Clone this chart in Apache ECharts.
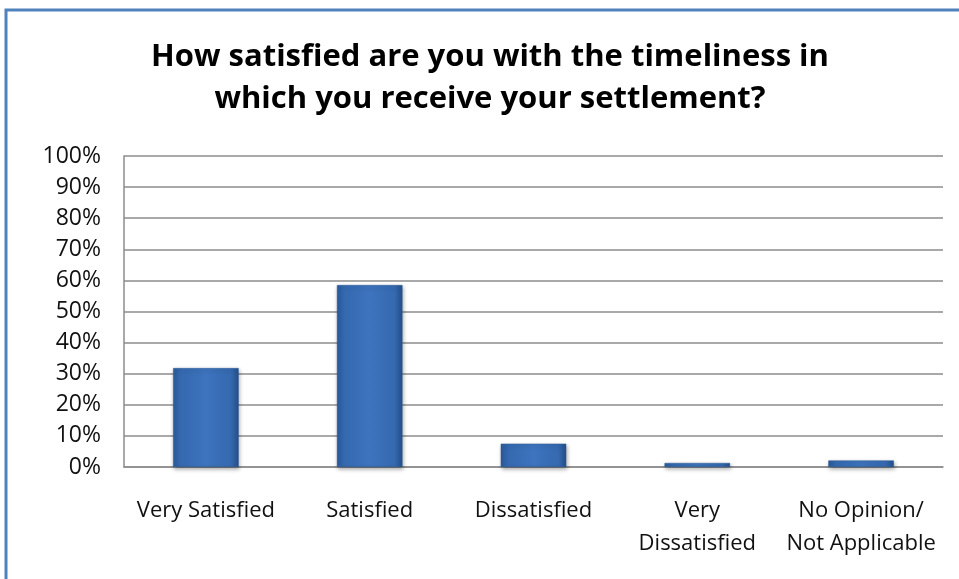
<!DOCTYPE html>
<html>
<head>
<meta charset="utf-8">
<script src="https://cdn.jsdelivr.net/npm/echarts@6/dist/echarts.min.js"></script>
<style>
html,body{margin:0;padding:0;background:#fff;}
#chart{width:959px;height:579px;}
</style>
</head>
<body>
<div id="chart"></div>
<script>
const titleText = "How satisfied are you with the timeliness in\nwhich you receive your settlement?";
const categories = ["Very Satisfied", "Satisfied", "Dissatisfied", "Very\nDissatisfied", "No Opinion/\nNot Applicable"];
const values = [31.8, 58.5, 7.5, 1.3, 2.1];
const yTicks = [0, 10, 20, 30, 40, 50, 60, 70, 80, 90, 100];

const chart = echarts.init(document.getElementById('chart'), null, {renderer: 'canvas'});
const FONT = 'Open Sans, Noto Sans, sans-serif';
chart.setOption({
  animation: false,
  backgroundColor: '#ffffff',
  graphic: [{
    type: 'rect',
    shape: {x: 6, y: 10, width: 1000, height: 700},
    style: {fill: 'none', stroke: '#4f81bd', lineWidth: 3},
    z: 100
  }, {
    type: 'text',
    x: 490,
    y: 36,
    style: {
      text: titleText,
      textAlign: 'center',
      textVerticalAlign: 'top',
      fontFamily: FONT,
      fontSize: 31,
      fontWeight: 'bold',
      fill: '#000',
      lineHeight: 42
    },
    z: 50
  }],
  grid: {left: 124, right: 16, top: 156, bottom: 112},
  xAxis: {
    type: 'category',
    data: categories,
    axisLine: {show: true, lineStyle: {color: '#8c8c8c', width: 1.5}},
    axisTick: {show: false},
    axisLabel: {fontFamily: FONT, fontSize: 22, color: '#111', margin: 27, lineHeight: 33, interval: 0}
  },
  yAxis: {
    type: 'value',
    min: 0, max: 100, interval: 10,
    axisLine: {show: true, lineStyle: {color: '#8c8c8c', width: 1.5}},
    axisTick: {show: false},
    splitLine: {lineStyle: {color: '#8c8c8c', width: 1.5}},
    axisLabel: {fontFamily: FONT, fontSize: 23, color: '#111', margin: 23,
      formatter: function (v) { return yTicks.indexOf(v) >= 0 ? v + '%' : ''; }}
  },
  series: [{
    type: 'bar',
    data: values,
    barWidth: '40%',
    itemStyle: {
      color: new echarts.graphic.LinearGradient(0, 0, 1, 0, [
        {offset: 0, color: '#2a5b9c'},
        {offset: 0.12, color: '#3569b0'},
        {offset: 0.5, color: '#3d74bd'},
        {offset: 0.88, color: '#3569b0'},
        {offset: 1, color: '#244f8a'}
      ]),
      borderColor: '#2c5a96',
      borderWidth: 0.5,
      shadowColor: 'rgba(0,0,0,0.35)',
      shadowBlur: 4,
      shadowOffsetX: 1,
      shadowOffsetY: 2
    }
  }]
});
</script>
</body>
</html>
